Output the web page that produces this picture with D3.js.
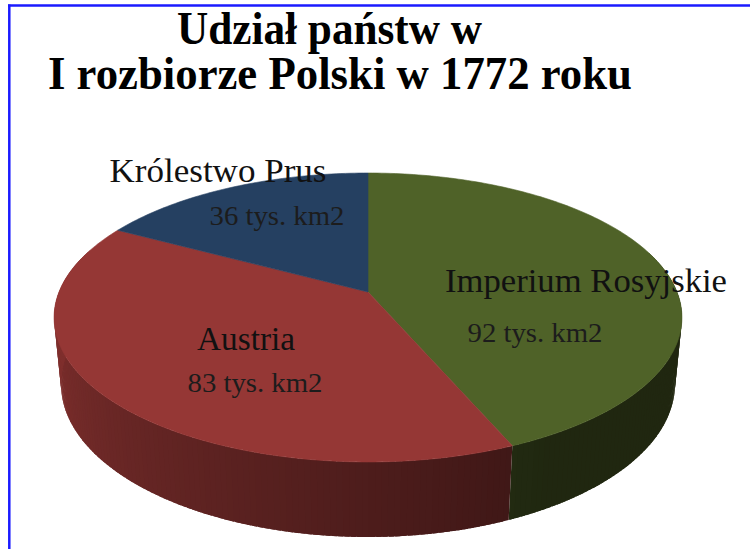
<!DOCTYPE html>
<html>
<head>
<meta charset="utf-8">
<script src="https://cdn.jsdelivr.net/npm/d3@7"></script>
<style>
  html, body { margin: 0; padding: 0; background: #ffffff; }
  svg { display: block; }
</style>
</head>
<body>
<div id="chart"></div>
<script>
// ---- data ----
const titleLines = ["Udział państw w", "I rozbiorze Polski w 1772 roku"];
const categories = ["Imperium Rosyjskie", "Austria", "Królestwo Prus"];
const values = [92, 83, 36];
const unit = "tys. km2";
const topColors = ["#4f6228", "#953735", "#254061"];

// ---- layout (not data) ----
const W = 750, H = 549;
const labelPos = [   // [name cx, name baseline, name width, value cx, value baseline]
  [586, 292, 282, 535, 342],
  [246, 350, 98, 255, 392],
  [218, 182, 217, 277, 225]
];

const svg = d3.select("#chart").append("svg")
  .attr("width", W).attr("height", H)
  .attr("viewBox", `0 0 ${W} ${H}`);

svg.append("rect").attr("width", W).attr("height", H).attr("fill", "#fff");

// frame (top + left blue line)
svg.append("line").attr("x1", 8).attr("x2", W).attr("y1", 5.5).attr("y2", 5.5)
  .attr("stroke", "#1a1aff").attr("stroke-width", 2.5);
svg.append("line").attr("x1", 9.3).attr("x2", 9.3).attr("y1", 4.5).attr("y2", H)
  .attr("stroke", "#1a1aff").attr("stroke-width", 2.5);

// title
const titleFont = "'Liberation Serif', 'Times New Roman', serif";
const titleGeom = [[329.5, 44, 305], [340, 89, 584]];
svg.selectAll("text.title").data(titleLines).join("text")
  .attr("class", "title")
  .attr("x", (d, i) => titleGeom[i][0])
  .attr("y", (d, i) => titleGeom[i][1])
  .attr("text-anchor", "middle")
  .attr("textLength", (d, i) => titleGeom[i][2])
  .attr("lengthAdjust", "spacingAndGlyphs")
  .attr("font-family", titleFont)
  .attr("font-weight", "bold")
  .attr("font-size", 47)
  .attr("fill", "#000")
  .text(d => d);

// ---- 3D pie projection ----
const cx = 368, cy = 292, K = 309;
const sinA = 0.453, cosA = 0.891, rho = 0.198, hh = 0.244;
function project(theta, r, level) {
  const x3 = r * Math.sin(theta);
  const z3 = r * Math.cos(theta);
  const y3 = -hh * level;
  const depth = 1 + rho * (-y3 * sinA + z3 * cosA);
  const sx = x3;
  const sy = y3 * cosA + z3 * sinA;
  return [cx + K * sx / depth, cy - K * sy / depth];
}

const pie = d3.pie().sort(null).startAngle(0).endAngle(2 * Math.PI);
const arcs = pie(values);

const stepScale = d3.scaleLinear().domain([0, 1]);
function arcPoints(a0, a1, level) {
  const n = Math.max(2, Math.ceil((a1 - a0) / (Math.PI / 180)));
  stepScale.range([a0, a1]);
  return d3.range(n + 1).map(i => project(stepScale(i / n), 1, level));
}

const line = d3.line();

// side shading factor by angle (degrees)
const shade = d3.scaleLinear().domain([150, 262]).range([0.40, 0.85]).clamp(true);
function sideColor(base, theta) {
  const c = d3.rgb(base);
  const f = shade(theta * 180 / Math.PI);
  return d3.rgb(c.r * f, c.g * f, c.b * f).formatHex();
}

// side quads (slightly overlapping to avoid seams)
const quads = [];
const ov = 0.8 * Math.PI / 180;
arcs.forEach((a, i) => {
  const n = Math.max(2, Math.ceil((a.endAngle - a.startAngle) / (Math.PI / 180)));
  for (let k = 0; k < n; k++) {
    const t0 = a.startAngle + (a.endAngle - a.startAngle) * k / n;
    const t1 = a.startAngle + (a.endAngle - a.startAngle) * (k + 1) / n;
    const tm = (t0 + t1) / 2;
    if (Math.cos(tm) > 0.3) continue; // far back, hidden
    const te = (k < n - 1) ? t1 + ov : t1;
    quads.push({
      pts: [project(t0, 1, 0), project(te, 1, 0), project(te, 1, 1), project(t0, 1, 1)],
      color: sideColor(topColors[i], tm),
      order: i * 1000 + k
    });
  }
});
svg.append("g").selectAll("path").data(quads).join("path")
  .attr("d", d => line(d.pts) + "Z")
  .attr("fill", d => d.color);

// top faces
svg.append("g").selectAll("path").data(arcs).join("path")
  .attr("d", a => line([project(0, 0, 0)].concat(arcPoints(a.startAngle, a.endAngle, 0))) + "Z")
  .attr("fill", (a, i) => topColors[i])
  .attr("stroke", (a, i) => topColors[i])
  .attr("stroke-width", 0.6);

// labels
const labFont = "'Liberation Serif', 'Times New Roman', serif";
const lg = svg.append("g");
categories.forEach((c, i) => {
  const p = labelPos[i];
  lg.append("text")
    .attr("x", p[0]).attr("y", p[1])
    .attr("text-anchor", "middle")
    .attr("textLength", p[2]).attr("lengthAdjust", "spacingAndGlyphs")
    .attr("font-family", labFont).attr("font-size", 33)
    .attr("fill", "#111")
    .text(c);
  lg.append("text")
    .attr("x", p[3]).attr("y", p[4])
    .attr("text-anchor", "middle")
    .attr("textLength", 135).attr("lengthAdjust", "spacingAndGlyphs")
    .attr("font-family", labFont).attr("font-size", 28)
    .attr("fill", "#1c1c1c")
    .text(values[i] + " " + unit);
});
</script>
</body>
</html>
